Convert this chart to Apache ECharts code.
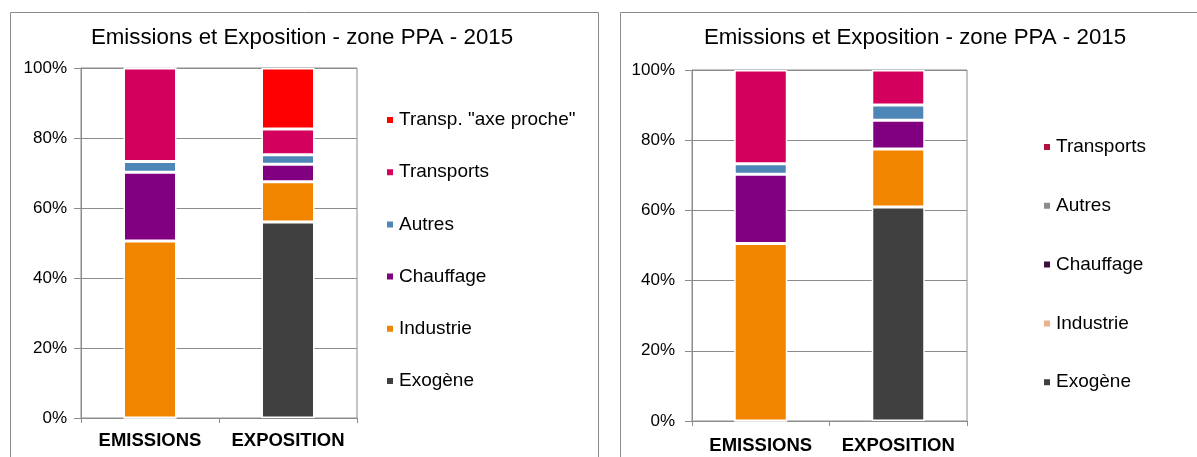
<!DOCTYPE html>
<html style="height: 100%">
  <head>
     <meta charset="utf-8">
  </head>
  <body style="height: 100%; margin: 0; background: #fff">
     <div id="container" style="width: 1197px; height: 457px"></div>
     <script type="text/javascript" src="https://cdn.jsdelivr.net/npm/echarts@6/dist/echarts.min.js"></script>
     <script type="text/javascript">
// categories on the x axis (both charts)
var categories = ['EMISSIONS', 'EXPOSITION'];

// left chart (with "axe proche"), values in %
var leftExogene    = [0, 56];
var leftIndustrie  = [50.6, 11.5];
var leftChauffage  = [19.6, 5];
var leftAutres     = [3.1, 2.7];
var leftTransports = [26.7, 7.4];
var leftAxeProche  = [0, 17.4];

// right chart, values in %
var rightExogene    = [0, 61];
var rightIndustrie  = [50.6, 16.5];
var rightChauffage  = [19.7, 8.2];
var rightAutres     = [3.0, 4.3];
var rightTransports = [26.7, 10];

var titleText = 'Emissions et Exposition - zone PPA - 2015';
var names = ['Exogène', 'Industrie', 'Chauffage', 'Autres', 'Transports', 'Transp. "axe proche"'];

var colors = {
  'Exogène': '#404040',
  'Industrie': '#f28500',
  'Chauffage': '#80007f',
  'Autres': '#4f86b8',
  'Transports': '#d3005d',
  'Transp. "axe proche"': '#ff0000'
};

var FONT = 'Liberation Sans, Arial, sans-serif';
var lineCol = '#8c8c8c';

var dom = document.getElementById("container");
var myChart = echarts.init(dom);

function bar(name, data, idx, stack) {
  return {
    name: name,
    type: 'bar',
    stack: stack,
    xAxisIndex: idx,
    yAxisIndex: idx,
    barWidth: 53,
    itemStyle: {
      color: colors[name],
      borderColor: '#fff',
      borderWidth: 1.5
    },
    data: data
  };
}

function xAx(idx, margin) {
  return {
    gridIndex: idx,
    type: 'category',
    data: categories,
    axisLine: { lineStyle: { color: lineCol } },
    axisTick: { show: true, length: 5, lineStyle: { color: lineCol } },
    axisLabel: { interval: 0, color: '#000', fontFamily: FONT, fontSize: 18.5, fontWeight: 'bold', margin: margin }
  };
}

function yAx(idx, margin) {
  return {
    gridIndex: idx,
    type: 'value',
    min: 0,
    max: 100,
    interval: 20,
    axisLine: { show: true, lineStyle: { color: lineCol } },
    axisTick: { show: true, length: 7, lineStyle: { color: lineCol } },
    splitLine: { lineStyle: { color: lineCol } },
    axisLabel: { color: '#000', fontFamily: FONT, fontSize: 17, margin: margin, formatter: '{value}%' }
  };
}

var legendText = { color: '#000', fontFamily: FONT, fontSize: 19, lineHeight: 20 };

option = {
  animation: false,
  backgroundColor: '#fff',
  title: [
    { text: titleText, left: 302, top: 27, textAlign: 'center', padding: 0,
      textStyle: { color: '#000', fontFamily: FONT, fontSize: 22.3, fontWeight: 'normal' } },
    { text: titleText, left: 915, top: 27, textAlign: 'center', padding: 0,
      textStyle: { color: '#000', fontFamily: FONT, fontSize: 22.3, fontWeight: 'normal' } }
  ],
  legend: [
    {
      orient: 'vertical', left: 385, top: 110, padding: 0,
      itemWidth: 8, itemHeight: 8, itemGap: 32.2, icon: 'rect',
      textStyle: legendText,
      data: names.slice().reverse()
    },
    {
      orient: 'vertical', left: 1042, top: 137, padding: 0,
      itemWidth: 8, itemHeight: 8, itemGap: 38.8, icon: 'rect',
      textStyle: legendText,
      data: [
        { name: 'Transports', itemStyle: { color: '#b3123f' } },
        { name: 'Autres', itemStyle: { color: '#8c8c8c' } },
        { name: 'Chauffage', itemStyle: { color: '#3d0d40' } },
        { name: 'Industrie', itemStyle: { color: '#e6b38c' } },
        { name: 'Exogène', itemStyle: { color: '#404040' } }
      ]
    }
  ],
  grid: [
    { left: 81, top: 68, width: 276, height: 350, show: true, borderColor: lineCol, borderWidth: 1 },
    { left: 692, top: 70, width: 275, height: 351, show: true, borderColor: lineCol, borderWidth: 1 }
  ],
  xAxis: [xAx(0, 13), xAx(1, 15)],
  yAxis: [yAx(0, 14), yAx(1, 17)],
  graphic: [
    { type: 'rect', shape: { x: 10.5, y: 12.5, width: 588, height: 470 },
      style: { fill: null, stroke: '#8a8a8a', lineWidth: 1 } },
    { type: 'rect', shape: { x: 620.5, y: 12.5, width: 600, height: 470 },
      style: { fill: null, stroke: '#8a8a8a', lineWidth: 1 } }
  ],
  series: [
    bar('Exogène', leftExogene, 0, 'L'),
    bar('Industrie', leftIndustrie, 0, 'L'),
    bar('Chauffage', leftChauffage, 0, 'L'),
    bar('Autres', leftAutres, 0, 'L'),
    bar('Transports', leftTransports, 0, 'L'),
    bar('Transp. "axe proche"', leftAxeProche, 0, 'L'),
    bar('Exogène', rightExogene, 1, 'R'),
    bar('Industrie', rightIndustrie, 1, 'R'),
    bar('Chauffage', rightChauffage, 1, 'R'),
    bar('Autres', rightAutres, 1, 'R'),
    bar('Transports', rightTransports, 1, 'R')
  ]
};

if (option && typeof option === "object") {
  myChart.setOption(option, true);
}
     </script>
  </body>
</html>
